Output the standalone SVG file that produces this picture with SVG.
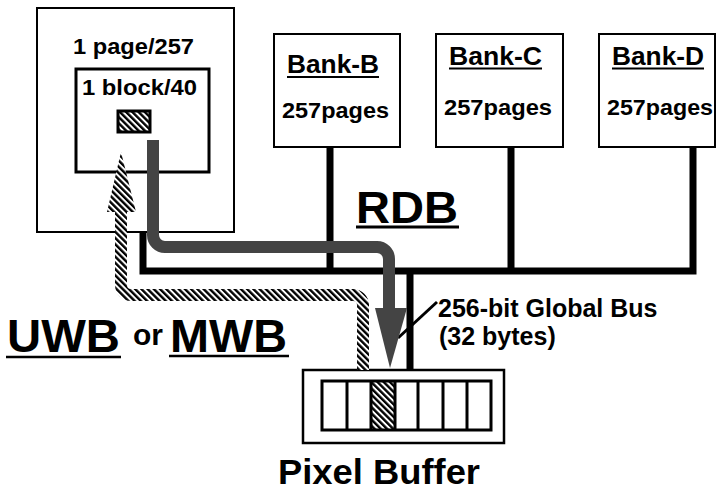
<svg xmlns="http://www.w3.org/2000/svg" width="717" height="490" viewBox="0 0 717 490">
<style>
text{font-family:"Liberation Sans",Arial,Helvetica,sans-serif;font-weight:bold;fill:#000}
.box{fill:#fff;stroke:#000;stroke-width:2}
.bus{fill:none;stroke:#000;stroke-width:7;stroke-linejoin:miter}
.ul{stroke:#000;stroke-width:2}
</style>
<defs>
<pattern id="hatch" patternUnits="userSpaceOnUse" width="4.4" height="4.4" patternTransform="rotate(-45)">
<rect width="4.4" height="4.4" fill="#fff"/>
<rect width="2.4" height="4.4" fill="#000"/>
</pattern>
</defs>
<rect width="717" height="490" fill="#fff"/>

<g id="bankA">
<rect class="box" x="37" y="8" width="197" height="224"/>
<text x="73" y="54" font-size="22" textLength="121" lengthAdjust="spacingAndGlyphs">1 page/257</text>
<rect x="76" y="69" width="133" height="103" fill="#fff" stroke="#000" stroke-width="3"/>
<text x="82" y="95" font-size="22" textLength="115" lengthAdjust="spacingAndGlyphs">1 block/40</text>
<rect x="118" y="111" width="32" height="21" fill="url(#hatch)" stroke="#000" stroke-width="3"/>
</g>

<g id="bankB">
<rect class="box" x="274" y="34" width="126" height="113"/>
<text x="287" y="73" font-size="25" textLength="92" lengthAdjust="spacingAndGlyphs">Bank-B</text>
<line class="ul" x1="287" y1="77" x2="379" y2="77"/>
<text x="282" y="118" font-size="22" textLength="107" lengthAdjust="spacingAndGlyphs">257pages</text>
</g>

<g id="bankC">
<rect class="box" x="436" y="34" width="127" height="113"/>
<text x="449" y="65" font-size="25" textLength="93" lengthAdjust="spacingAndGlyphs">Bank-C</text>
<line class="ul" x1="449" y1="68.5" x2="542" y2="68.5"/>
<text x="444" y="115" font-size="22" textLength="108" lengthAdjust="spacingAndGlyphs">257pages</text>
</g>

<g id="bankD">
<rect class="box" x="599" y="34" width="116" height="113"/>
<text x="612" y="65" font-size="25" textLength="92" lengthAdjust="spacingAndGlyphs">Bank-D</text>
<line class="ul" x1="612" y1="68.5" x2="704" y2="68.5"/>
<text x="607" y="115" font-size="22" textLength="106" lengthAdjust="spacingAndGlyphs">257pages</text>
</g>

<g id="pixelBuffer">
<rect x="303" y="370" width="201" height="73" fill="#fff" stroke="#000" stroke-width="2.5"/>
<rect x="371" y="381" width="24" height="49" fill="url(#hatch)"/>
<rect x="322" y="381" width="169" height="49" fill="none" stroke="#000" stroke-width="3"/>
<path d="M347,381V430M371,381V430M395,381V430M418,381V430M443,381V430M467,381V430" stroke="#000" stroke-width="3" fill="none"/>
<text x="278" y="484" font-size="35" textLength="202" lengthAdjust="spacingAndGlyphs">Pixel Buffer</text>
</g>

<g id="labels">
<text x="356" y="223" font-size="44" textLength="102" lengthAdjust="spacingAndGlyphs">RDB</text>
<line x1="356" y1="227" x2="459" y2="227" stroke="#000" stroke-width="3"/>
<text x="7" y="352" font-size="46" textLength="113" lengthAdjust="spacingAndGlyphs">UWB</text>
<line x1="6" y1="357" x2="121" y2="357" stroke="#000" stroke-width="2.5"/>
<text x="133" y="345" font-size="29" textLength="30" lengthAdjust="spacingAndGlyphs">or</text>
<text x="170" y="352" font-size="46" textLength="117" lengthAdjust="spacingAndGlyphs">MWB</text>
<line x1="169" y1="356" x2="289" y2="356" stroke="#000" stroke-width="2.5"/>
<text x="438" y="317" font-size="25">256-bit Global Bus</text>
<text x="439" y="345" font-size="25">(32 bytes)</text>
</g>

<g id="connectors">
<path class="bus" d="M143,232V271H693V147"/>
<path class="bus" d="M330,147V271M511,147V271M410,271V370"/>
<line x1="437" y1="302" x2="398" y2="338" stroke="#000" stroke-width="3"/>
<path d="M363,370V305A10,10 0 0 0 353,295H131A10,10 0 0 1 121,285V210" fill="none" stroke="url(#hatch)" stroke-width="12"/>
<polygon points="107,212 136,212 121,152" fill="url(#hatch)"/>
<path d="M153,140V235A12,12 0 0 0 165,247H377A12,12 0 0 1 389,259V310" fill="none" stroke="#444" stroke-width="12"/>
<polygon points="375,308 407,308 390,368" fill="#444"/>
</g>
</svg>
